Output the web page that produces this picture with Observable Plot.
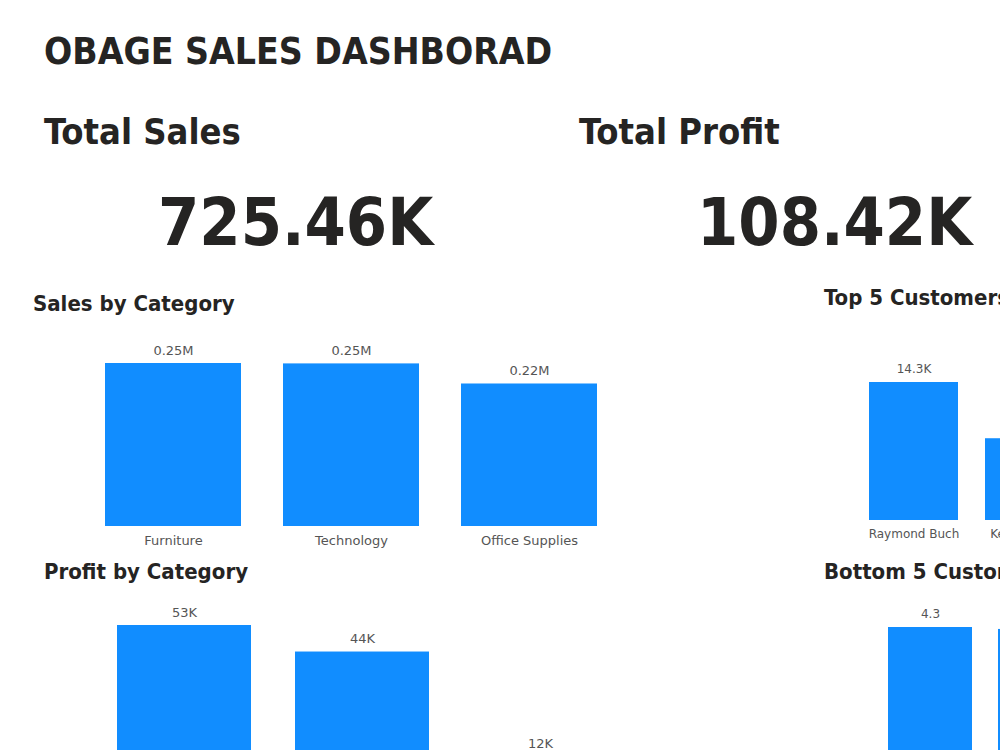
<!DOCTYPE html>
<html>
<head>
<meta charset="utf-8">
<script src="https://cdn.jsdelivr.net/npm/d3@7"></script>
<script src="https://cdn.jsdelivr.net/npm/@observablehq/plot@0.6"></script>
<style>
  html, body { margin: 0; padding: 0; background: #fff; }
  body { width: 1000px; height: 750px; overflow: hidden; position: relative;
         font-family: "Comic Sans MS", "DejaVu Sans Condensed", "DejaVu Sans", sans-serif; }
  .t { position: absolute; white-space: nowrap; line-height: 1; color: #252423;
       font-weight: bold; font-stretch: condensed; }
  .chart { position: absolute; }
  .chart svg { max-width: none !important; display: block; }
</style>
</head>
<body>
<div class="t" style="left:44px; top:33px; font-size:37px;">OBAGE SALES DASHBORAD</div>
<div class="t" style="left:44px; top:114px; font-size:36px;">Total Sales</div>
<div class="t" style="left:579px; top:114px; font-size:36px;">Total Profit</div>
<div class="t" id="kpiSales" style="left:158px; top:190px; font-size:66px;"></div>
<div class="t" id="kpiProfit" style="left:697px; top:190px; font-size:66px;"></div>
<div class="t" style="left:33px; top:293px; font-size:22px;">Sales by Category</div>
<div class="t" style="left:44px; top:561px; font-size:22px;">Profit by Category</div>
<div class="t" style="left:824px; top:287px; font-size:22px;">Top 5 Customers</div>
<div class="t" style="left:824px; top:561px; font-size:22px;">Bottom 5 Customers</div>
<div class="chart" id="salesCat" style="left:0px; top:330px; width:620px;"></div>
<div class="chart" id="profitCat" style="left:0px; top:595px; width:640px;"></div>
<div class="chart" id="topCust" style="left:800px; top:350px; width:300px;"></div>
<div class="chart" id="bottomCust" style="left:800px; top:597px; width:300px;"></div>
<script>
// Headline totals
const totalSales = 725458;
const totalProfit = 108418;

// Sales by category
const salesCategories = ["Furniture", "Technology", "Office Supplies"];
const salesValues = [252612, 251992, 220853];

// Profit by category
const profitCategories = ["Office Supplies", "Technology", "Furniture"];
const profitValues = [52610, 44304, 11505];

// Top customers by sales
const topCustomers = ["Raymond Buch", "Ken Lonsdale"];
const topValues = [14345, 8500];

// Bottom customers by sales
const bottomCustomers = ["Thais Sissman", "Lela Donovan"];
const bottomValues = [4.30, 4.25];

const BLUE = "#118DFF";
const LABEL = "#555";
const FONT = "'DejaVu Sans', sans-serif";

document.getElementById("kpiSales").textContent = (totalSales / 1000).toFixed(2) + "K";
document.getElementById("kpiProfit").textContent = (totalProfit / 1000).toFixed(2) + "K";

function barChart({names, values, fmt, width, height, marginLeft, marginRight, marginTop, marginBottom, paddingInner, fontSize}) {
  const data = names.map((name, i) => ({name, value: values[i]}));
  return Plot.plot({
    width, height, marginLeft, marginRight, marginTop, marginBottom,
    style: {fontFamily: FONT, fontSize: fontSize + "px", background: "transparent", overflow: "visible", maxWidth: "none"},
    x: {domain: names, paddingInner, paddingOuter: 0, label: null},
    y: {axis: null, label: null},
    marks: [
      Plot.barY(data, {x: "name", y: "value", fill: BLUE}),
      Plot.text(data, {x: "name", y: "value", text: d => fmt(d.value), dy: -13, fill: LABEL, fontSize}),
      Plot.axisX({tickSize: 0, tickPadding: 9, label: null, color: LABEL, fontSize})
    ]
  });
}

document.getElementById("salesCat").append(barChart({
  names: salesCategories, values: salesValues,
  fmt: v => (v / 1e6).toFixed(2) + "M",
  width: 620, height: 226, marginLeft: 104, marginRight: 23, marginTop: 33, marginBottom: 30,
  paddingInner: 0.238, fontSize: 13
}));

document.getElementById("profitCat").append(barChart({
  names: profitCategories, values: profitValues,
  fmt: v => (v / 1000).toFixed(0) + "K",
  width: 640, height: 228, marginLeft: 116, marginRight: 31, marginTop: 30, marginBottom: 30,
  paddingInner: 0.245, fontSize: 13
}));

document.getElementById("topCust").append(barChart({
  names: topCustomers, values: topValues,
  fmt: v => (v / 1000).toFixed(1) + "K",
  width: 300, height: 198, marginLeft: 69, marginRight: 26, marginTop: 32, marginBottom: 28,
  paddingInner: 0.233, fontSize: 12
}));

document.getElementById("bottomCust").append(barChart({
  names: bottomCustomers, values: bottomValues,
  fmt: v => v.toFixed(1),
  width: 300, height: 227, marginLeft: 87, marginRight: 17, marginTop: 30, marginBottom: 30,
  paddingInner: 0.234, fontSize: 12
}));
</script>
</body>
</html>
